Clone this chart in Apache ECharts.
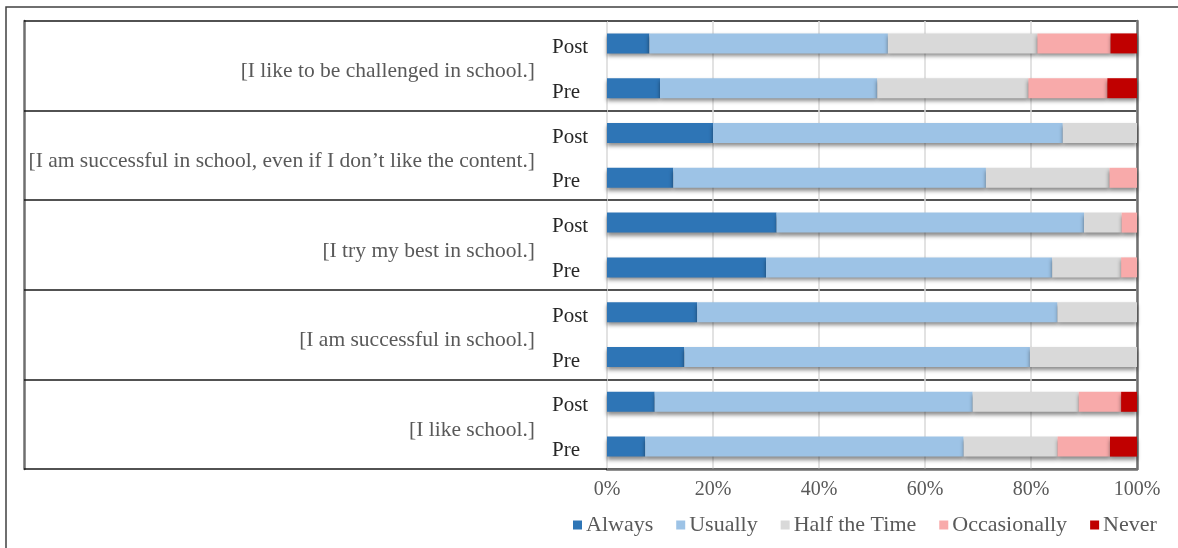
<!DOCTYPE html>
<html>
<head>
<meta charset="utf-8">
<script src="https://cdn.jsdelivr.net/npm/echarts@6/dist/echarts.min.js"></script>
<style>
  html, body { margin: 0; padding: 0; background: #fff; }
  #chart { width: 1178px; height: 548px; }
</style>
</head>
<body>
<div id="chart"></div>
<script>
// top to bottom
const questions = [
  '[I like to be challenged in school.]',
  '[I am successful in school, even if I don\u2019t like the content.]',
  '[I try my best in school.]',
  '[I am successful in school.]',
  '[I like school.]'
]
const rows = ['Post', 'Pre', 'Post', 'Pre', 'Post', 'Pre', 'Post', 'Pre', 'Post', 'Pre']
const xTicks = [0, 20, 40, 60, 80, 100]

const always = [8, 10, 20, 12.5, 32, 30, 17, 14.6, 9, 7.2]
const usually = [45, 41, 66, 59, 58, 54, 68, 65.2, 60, 60.1]
const halfTime = [28.2, 28.5, 14, 23.3, 7.1, 13, 15, 20.2, 20, 17.7]
const occasionally = [13.8, 14.9, 0, 5.2, 2.9, 3, 0, 0, 8, 9.9]
const never = [5, 5.6, 0, 0, 0, 0, 0, 0, 3, 5.1]

const names = ['Always', 'Usually', 'Half the Time', 'Occasionally', 'Never']
const colors = ['#2e75b6', '#9dc3e6', '#d9d9d9', '#f8aaaa', '#c00000']
const values = [always, usually, halfTime, occasionally, never]

const font = 'Liberation Serif'
const frame = '#6f6f6f'

const chart = echarts.init(document.getElementById('chart'))

const option = {
  animation: false,
  textStyle: { fontFamily: font },
  graphic: [
    {
      type: 'rect',
      shape: { x: 6, y: 7, width: 1300, height: 700 },
      style: { fill: 'none', stroke: '#404040', lineWidth: 1.5 }
    }
  ],
  grid: { left: 607, right: 41, top: 21, bottom: 79 },
  legend: {
    data: names,
    left: 568,
    top: 509,
    icon: 'rect',
    itemWidth: 9,
    itemHeight: 9,
    itemGap: 23,
    textStyle: { fontFamily: font, fontSize: 22, color: '#595959', padding: [0, 0, 0, -1] }
  },
  xAxis: {
    type: 'value',
    min: xTicks[0],
    max: xTicks[xTicks.length - 1],
    interval: 20,
    axisLine: { show: true, lineStyle: { color: frame, width: 2.5 } },
    axisTick: { show: false },
    axisLabel: { formatter: '{value}%', margin: 11, fontSize: 20, color: '#595959', fontFamily: font },
    splitLine: { lineStyle: { color: '#d9d9d9', width: 1.5 } }
  },
  yAxis: [
    {
      type: 'category',
      data: rows,
      inverse: true,
      axisLine: { show: false },
      axisTick: { show: false },
      axisLabel: {
        align: 'left',
        margin: 55,
        formatter: v => '{t|' + v + '}',
        rich: { t: { fontSize: 21, color: '#262626', fontFamily: font, padding: [8, 0, 0, 0] } }
      }
    },
    {
      type: 'category',
      data: questions,
      inverse: true,
      position: 'left',
      axisLine: { show: false },
      axisTick: { show: true, length: 583, lineStyle: { color: '#1a1a1a', width: 1.5 } },
      axisLabel: {
        margin: 72,
        formatter: v => '{q|' + v + '}',
        rich: { q: { fontSize: 21.5, color: '#595959', fontFamily: font, padding: [12, 0, 0, 0] } }
      },
      splitLine: { show: true, lineStyle: { color: '#1a1a1a', width: 1.5 } }
    },
    {
      type: 'category',
      data: rows,
      position: 'right',
      axisLine: { show: true, lineStyle: { color: frame, width: 2.5 } },
      axisTick: { show: false },
      axisLabel: { show: false }
    },
    {
      type: 'category',
      data: rows,
      position: 'left',
      offset: 583,
      axisLine: { show: true, lineStyle: { color: frame, width: 2.5 } },
      axisTick: { show: false },
      axisLabel: { show: false }
    }
  ],
  series: names.map((n, i) => ({
    name: n,
    type: 'bar',
    stack: 'total',
    yAxisIndex: 0,
    barWidth: 20,
    data: values[i],
    itemStyle: {
      color: colors[i],
      shadowColor: 'rgba(0,0,0,0.45)',
      shadowBlur: 4,
      shadowOffsetY: 3
    }
  }))
}

chart.setOption(option)
</script>
</body>
</html>
